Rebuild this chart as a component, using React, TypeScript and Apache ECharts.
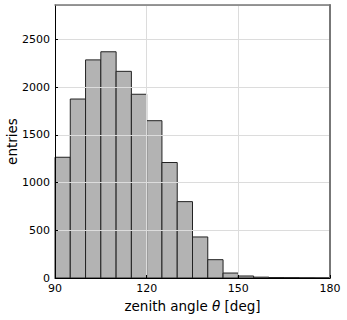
import React, { useEffect, useRef } from "react";
import * as echarts from "echarts";

const binEdgesStart = [90, 95, 100, 105, 110, 115, 120, 125, 130, 135, 140, 145, 150, 155, 160, 165, 170, 175];
const binWidth = 5;
const counts = [1265, 1875, 2285, 2370, 2165, 1925, 1648, 1210, 800, 430, 192, 52, 21, 9, 5, 4, 2, 1];
const xTicks = [90, 120, 150, 180];
const yTicks = [0, 500, 1000, 1500, 2000, 2500];

export default function App() {
  const ref = useRef<HTMLDivElement>(null);
  useEffect(() => {
    if (!ref.current) return;
    const chart = echarts.init(ref.current, undefined, { renderer: "svg" });
    const font = "DejaVu Sans";
    const data = binEdgesStart.map((s, i) => [s, s + binWidth, counts[i]]);
    const fmt = (v: number) => String(v);
    chart.setOption({
      animation: false,
      textStyle: { fontFamily: font },
      grid: {
        left: 55,
        right: 17,
        top: 5,
        bottom: 42,
        containLabel: false,
        outerBoundsMode: "none",
      },
      xAxis: [
        {
          type: "value",
          min: xTicks[0],
          max: xTicks[xTicks.length - 1],
          interval: 30,
          name: "{a|zenith angle }{b|θ}{a| [deg]}",
          nameLocation: "middle",
          nameGap: 21,
          nameMoveOverlap: false,
          nameTextStyle: {
            rich: {
              a: { fontFamily: font, fontSize: 13.5, color: "#000" },
              b: { fontFamily: font, fontSize: 13.5, color: "#000", fontStyle: "italic" },
            },
          },
          axisLine: { show: true, onZero: false, lineStyle: { color: "#000", width: 1 } },
          axisTick: { show: true, inside: true, length: 3, lineStyle: { color: "#000" } },
          axisLabel: { color: "#000", fontSize: 11, fontFamily: font, margin: 5, formatter: fmt },
          splitLine: { show: true, lineStyle: { color: "#dcdcdc", width: 1 } },
          z: 5,
        },
        {
          type: "value",
          position: "top",
          min: xTicks[0],
          max: xTicks[xTicks.length - 1],
          interval: 30,
          axisLine: { show: true, onZero: false, lineStyle: { color: "#777", width: 1.5 } },
          axisTick: { show: false },
          axisLabel: { show: false },
          splitLine: { show: false },
          z: 5,
        },
      ],
      yAxis: [
        {
          type: "value",
          min: yTicks[0],
          max: 2860,
          interval: 500,
          name: "entries",
          nameLocation: "middle",
          nameGap: 36,
          nameMoveOverlap: false,
          nameTextStyle: { fontFamily: font, fontSize: 13.5, color: "#000" },
          axisLine: { show: true, onZero: false, lineStyle: { color: "#000", width: 1 } },
          axisTick: { show: true, inside: true, length: 3, lineStyle: { color: "#000" } },
          axisLabel: { color: "#000", fontSize: 11, fontFamily: font, margin: 5, showMaxLabel: false, formatter: fmt },
          splitLine: { show: true, lineStyle: { color: "#dcdcdc", width: 1 } },
          z: 5,
        },
        {
          type: "value",
          position: "right",
          min: yTicks[0],
          max: 2860,
          interval: 500,
          axisLine: { show: true, onZero: false, lineStyle: { color: "#777", width: 2 } },
          axisTick: { show: false },
          axisLabel: { show: false },
          splitLine: { show: false },
          z: 5,
        },
      ],
      series: [
        {
          type: "custom",
          data,
          xAxisIndex: 0,
          yAxisIndex: 0,
          encode: { x: [0, 1], y: 2 },
          renderItem: (params: any, api: any) => {
            const p0 = api.coord([api.value(0), api.value(2)]);
            const p1 = api.coord([api.value(1), 0]);
            return {
              type: "rect",
              shape: { x: p0[0], y: p0[1], width: p1[0] - p0[0], height: p1[1] - p0[1] },
              style: { fill: "#b3b3b3", stroke: "#222", lineWidth: 1 },
            };
          },
        },
      ],
    });
    return () => chart.dispose();
  }, []);
  return <div ref={ref} style={{ position: "absolute", left: 0, top: 0, width: 347, height: 320 }} />;
}
